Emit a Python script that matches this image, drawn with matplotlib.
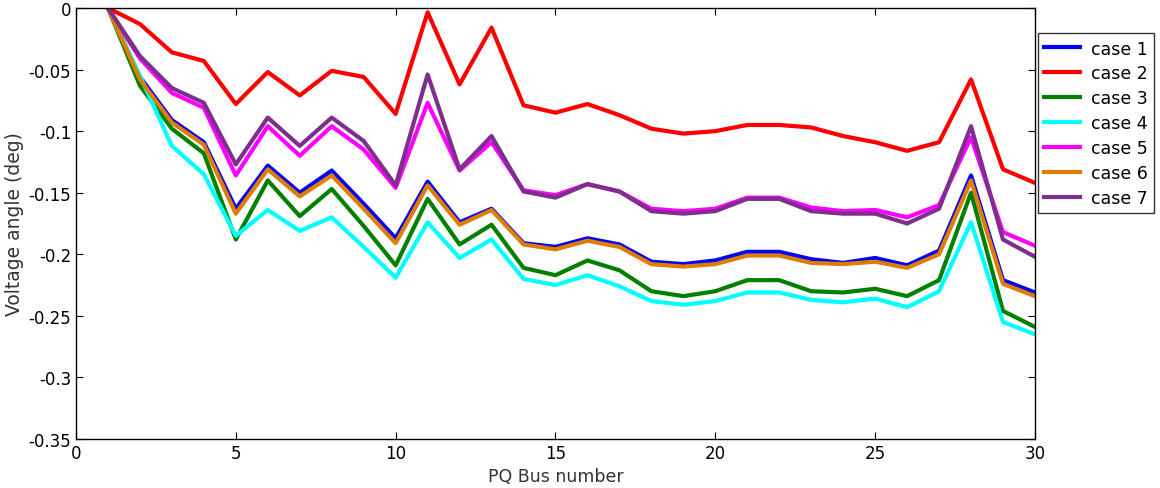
import numpy as np
import matplotlib
matplotlib.use("Agg")
import matplotlib.pyplot as plt
from matplotlib.ticker import FuncFormatter

bus = np.arange(1, 31)

case1 = [0, -0.056, -0.091, -0.109, -0.163, -0.128, -0.150, -0.132, -0.159, -0.187,
         -0.141, -0.174, -0.163, -0.191, -0.194, -0.187, -0.192, -0.206, -0.208, -0.205,
         -0.198, -0.198, -0.204, -0.207, -0.203, -0.209, -0.197, -0.136, -0.221, -0.231]
case2 = [0, -0.013, -0.036, -0.043, -0.078, -0.052, -0.071, -0.051, -0.056, -0.086,
         -0.0035, -0.062, -0.016, -0.079, -0.085, -0.078, -0.087, -0.098, -0.102, -0.100,
         -0.095, -0.095, -0.097, -0.104, -0.109, -0.116, -0.109, -0.058, -0.131, -0.142]
case3 = [0, -0.063, -0.098, -0.118, -0.188, -0.140, -0.169, -0.147, -0.177, -0.209,
         -0.155, -0.192, -0.176, -0.211, -0.217, -0.205, -0.213, -0.230, -0.234, -0.230,
         -0.221, -0.221, -0.230, -0.231, -0.228, -0.234, -0.221, -0.150, -0.246, -0.259]
case4 = [0, -0.055, -0.112, -0.135, -0.185, -0.164, -0.181, -0.170, -0.194, -0.219,
         -0.174, -0.203, -0.188, -0.220, -0.225, -0.217, -0.226, -0.238, -0.241, -0.238,
         -0.231, -0.231, -0.237, -0.239, -0.236, -0.243, -0.230, -0.174, -0.255, -0.265]
case5 = [0, -0.041, -0.069, -0.081, -0.136, -0.096, -0.120, -0.096, -0.115, -0.146,
         -0.077, -0.132, -0.109, -0.148, -0.152, -0.143, -0.149, -0.163, -0.165, -0.163,
         -0.154, -0.154, -0.162, -0.165, -0.164, -0.170, -0.160, -0.105, -0.182, -0.193]
case6 = [0, -0.058, -0.093, -0.111, -0.167, -0.131, -0.153, -0.136, -0.163, -0.191,
         -0.144, -0.176, -0.164, -0.192, -0.196, -0.189, -0.194, -0.208, -0.210, -0.208,
         -0.201, -0.201, -0.207, -0.208, -0.206, -0.211, -0.200, -0.140, -0.224, -0.234]
case7 = [0, -0.039, -0.065, -0.077, -0.127, -0.089, -0.112, -0.089, -0.108, -0.144,
         -0.054, -0.131, -0.104, -0.149, -0.154, -0.143, -0.149, -0.165, -0.167, -0.165,
         -0.155, -0.155, -0.165, -0.167, -0.167, -0.175, -0.163, -0.096, -0.188, -0.202]

series = [case1, case2, case3, case4, case5, case6, case7]
labels = ["case 1", "case 2", "case 3", "case 4", "case 5", "case 6", "case 7"]
colors = ["#0000ff", "#ff0000", "#008000", "#00ffff", "#ff00ff", "#de7d00", "#7e2f8e"]

plt.rcParams["font.family"] = ["DejaVu Sans"]
plt.rcParams["font.size"] = 12


def fmt(v, pos):
    v = round(v, 2)
    if v == 0:
        return "0"
    return "%g" % v


fig = plt.figure(figsize=(11.6, 4.89), dpi=100)
ax = fig.add_axes([0.0655, 0.1002, 0.8267, 0.8814])

for vals, lab, col in zip(series, labels, colors):
    ax.plot(bus, vals, color=col, lw=3, label=lab)

ax.set_xlim(0, 30)
ax.set_ylim(-0.35, 0)
ax.set_xticks(np.arange(0, 31, 5))
ax.set_yticks(np.arange(-0.35, 0.001, 0.05))
ax.yaxis.set_major_formatter(FuncFormatter(fmt))
ax.tick_params(direction="in", top=True, right=True, length=5, width=0.8, labelsize=12)
for s in ax.spines.values():
    s.set_linewidth(1.0)

ax.set_xlabel("PQ Bus number", fontsize=12.5, color="#333333", labelpad=4)
ax.set_ylabel("Voltage angle (deg)", fontsize=13.5, color="#333333", labelpad=3)

leg = ax.legend(loc="upper left", bbox_to_anchor=(1.003, 0.941), fontsize=12.5,
                frameon=True, fancybox=False, edgecolor="#333333", framealpha=1,
                handlelength=2.1, labelspacing=0.4, borderpad=0.35, handletextpad=0.6,
                borderaxespad=0)
leg.get_frame().set_linewidth(1.0)

fig.savefig("out.png", dpi=100)
